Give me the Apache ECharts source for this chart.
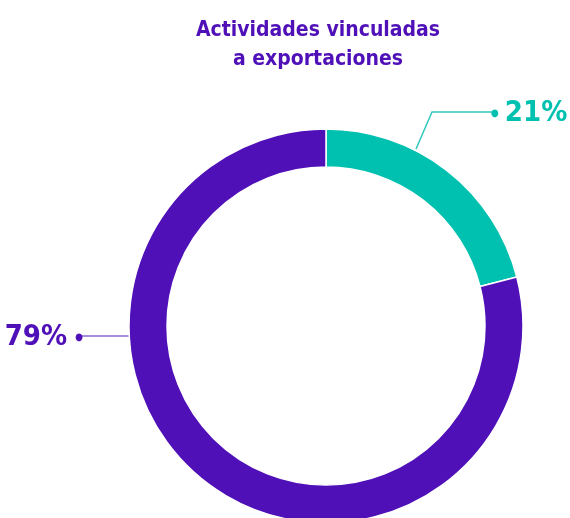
<!DOCTYPE html>
<html>
<head>
<meta charset="utf-8">
<script src="https://cdn.jsdelivr.net/npm/echarts@6/dist/echarts.min.js"></script>
<style>
  html, body { margin: 0; padding: 0; background: #fff; }
  #chart { width: 570px; height: 518px; }
</style>
</head>
<body>
<div id="chart"></div>
<script>
// datos
const categorias = ['Vinculadas a exportaciones', 'No vinculadas']
const valores = [21, 79]
const colores = ['#00c0b0', '#5010b8']
const titulo = 'Actividades vinculadas\na exportaciones'

const fuente = '"DejaVu Sans Condensed", "Roboto", sans-serif'

// posiciones de las etiquetas (línea guía)
const guias = [
  { x: 491, y: 113, align: 'left', puntos: [[416, 149], [432, 112], [494, 112]] },
  { x: 83, y: 337, align: 'right', puntos: [[129, 336], [79, 336], [79, 336]] }
]

const myChart = echarts.init(document.getElementById('chart'))
myChart.setOption({
  animation: false,
  title: {
    text: titulo,
    left: 313,
    top: 11,
    textAlign: 'center',
    textStyle: {
      color: '#5010b8',
      fontFamily: fuente,
      fontWeight: 'bold',
      fontSize: 21,
      lineHeight: 29
    }
  },
  series: [
    {
      type: 'pie',
      center: [326, 326],
      radius: [159, 197],
      startAngle: 90,
      clockwise: true,
      itemStyle: {
        borderColor: '#fff',
        borderWidth: 1.5
      },
      label: {
        show: true,
        position: 'outside',
        overflow: 'none',
        fontFamily: fuente,
        fontWeight: 'bold',
        fontSize: 29
      },
      labelLine: {
        show: true,
        lineStyle: { width: 1.5 }
      },
      labelLayout: function (params) {
        const g = guias[params.dataIndex]
        return {
          x: g.x,
          y: g.y,
          align: g.align,
          verticalAlign: 'middle',
          labelLinePoints: g.puntos
        }
      },
      data: valores.map((v, i) => ({
        name: categorias[i],
        value: v,
        itemStyle: { color: colores[i] },
        labelLine: { lineStyle: { color: i === 0 ? '#30c8bc' : '#8a64d0' } },
        label: {
          color: colores[i],
          formatter: i === 0 ? '{d|●}{v|' + v + '%}' : '{v|' + v + '%}{d|●}',
          rich: {
            d: { fontSize: 10, color: colores[i], padding: i === 0 ? [0, 6, 0, 0] : [0, 0, 0, 8] },
            v: {
              fontFamily: fuente,
              fontWeight: 'bold',
              fontSize: 29,
              color: colores[i]
            }
          }
        }
      }))
    }
  ]
})
</script>
</body>
</html>
